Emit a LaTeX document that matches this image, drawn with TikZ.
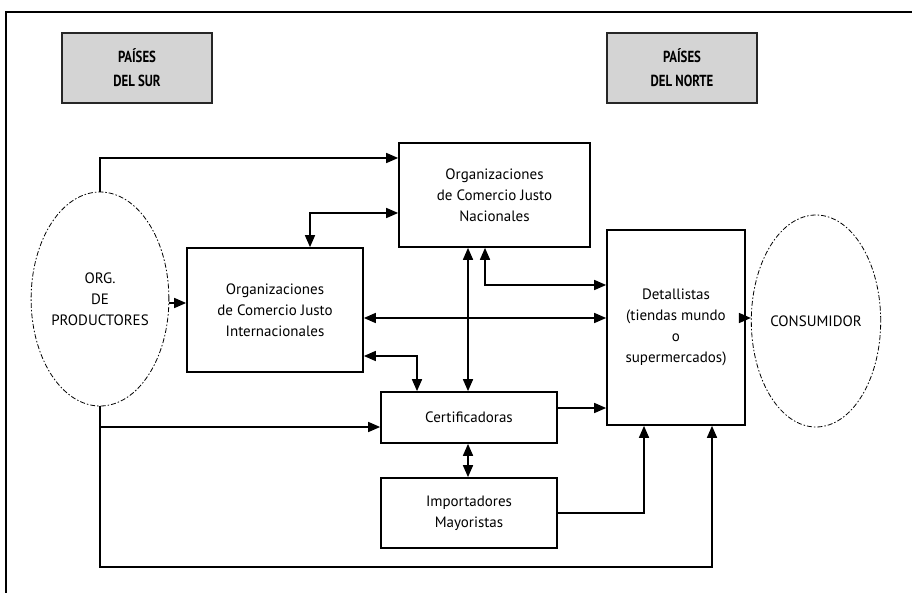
\documentclass[tikz,border=0pt]{standalone}
\usepackage{fontspec}
\setmainfont{PT Sans}
\newfontfamily\hdfont[FakeStretch=0.8]{PT Sans}
\usetikzlibrary{arrows.meta,shapes.geometric}
\begin{document}
\begin{tikzpicture}[x=1pt,y=-1pt,
  txt/.style={font=\fontsize{15}{21}\selectfont, align=center},
  box/.style={draw, line width=1.7pt, rectangle, inner sep=0pt, txt},
  region/.style={draw=black!85, line width=1.5pt, fill=black!17, inner sep=0pt, align=center,
     font=\hdfont\bfseries\fontsize{16}{24}\selectfont, minimum width=150pt, minimum height=70pt},
  oval/.style={draw, ellipse, line width=0.8pt, dash pattern=on 5pt off 2pt on 1.5pt off 2pt, inner sep=0pt, txt},
  arr/.style={line width=1.6pt, -{Triangle[length=12pt,width=10pt]}},
  darr/.style={line width=1.6pt, {Triangle[length=12pt,width=10pt]}-{Triangle[length=12pt,width=10pt]}},
  frame/.style={line width=1.2pt}]
\useasboundingbox (0,0) rectangle (912,593);
% frame
\coordinate (fr1) at (912,12);
\coordinate (fr2) at (6,12);
\coordinate (fr3) at (6,593);
\draw[frame] (fr1) -- (fr2) -- (fr3);
% region labels
\node[region] (sur) at (137,68) {PAÍSES\\DEL SUR};
\node[region] (norte) at (682,68) {PAÍSES\\DEL NORTE};
% main nodes
\node[oval, minimum width=116pt, minimum height=214pt] (org) at (100,299) {ORG.\\DE\\PRODUCTORES};
\node[box, minimum width=191pt, minimum height=104pt] (nac) at (494.5,195) {Organizaciones\\de Comercio Justo\\Nacionales};
\node[box, minimum width=176pt, minimum height=124pt] (intl) at (275,310) {Organizaciones\\de Comercio Justo\\Internacionales};
\node[box, minimum width=138pt, minimum height=195pt] (det) at (676,327.5) {Detallistas\\(tiendas mundo\\o\\supermercados)};
\node[oval, minimum width=108pt, minimum height=212pt] (cons) at (816,321) {CONSUMIDOR};
\node[box, minimum width=176pt, minimum height=51pt] (cert) at (469,417.5) {Certificadoras};
\node[box, minimum width=176pt, minimum height=70pt] (imp) at (469,513) {Importadores\\Mayoristas};
% helper coordinates
\coordinate (y158) at (0,158);
\coordinate (y213) at (0,213);
\coordinate (y285) at (0,285);
\coordinate (y303) at (0,303);
\coordinate (y318) at (0,318);
\coordinate (y356) at (0,356);
\coordinate (y408) at (0,408);
\coordinate (y427) at (0,427);
\coordinate (y513) at (0,513);
\coordinate (x310) at (310,0);
\coordinate (x417) at (417,0);
\coordinate (x468) at (468,0);
\coordinate (x485) at (485,0);
\coordinate (x644) at (644,0);
\coordinate (bend) at (712,567);
% connectors
\draw[arr] (org.north) |- (nac.west |- y158);
\draw[darr] (intl.north -| x310) |- (nac.west |- y213);
\draw[arr] (org.east |- y303) -- (intl.west |- y303);
\draw[darr] (intl.east |- y318) -- (det.west |- y318);
\draw[darr] (nac.south -| x468) -- (cert.north -| x468);
\draw[darr] (nac.south -| x485) |- (det.west |- y285);
\draw[darr] (intl.east |- y356) -| (cert.north -| x417);
\draw[arr] (cert.east |- y408) -- (det.west |- y408);
\draw[arr] (org.south) |- (cert.west |- y427);
\draw[arr] (org.south) |- (bend) -- (det.south -| bend);
\draw[arr] (imp.east |- y513) -| (det.south -| x644);
\draw[darr] (cert.south -| x468) -- (imp.north -| x468);
\draw[arr] (det.east |- y318) -- (cons.west |- y318);
\end{tikzpicture}
\end{document}
